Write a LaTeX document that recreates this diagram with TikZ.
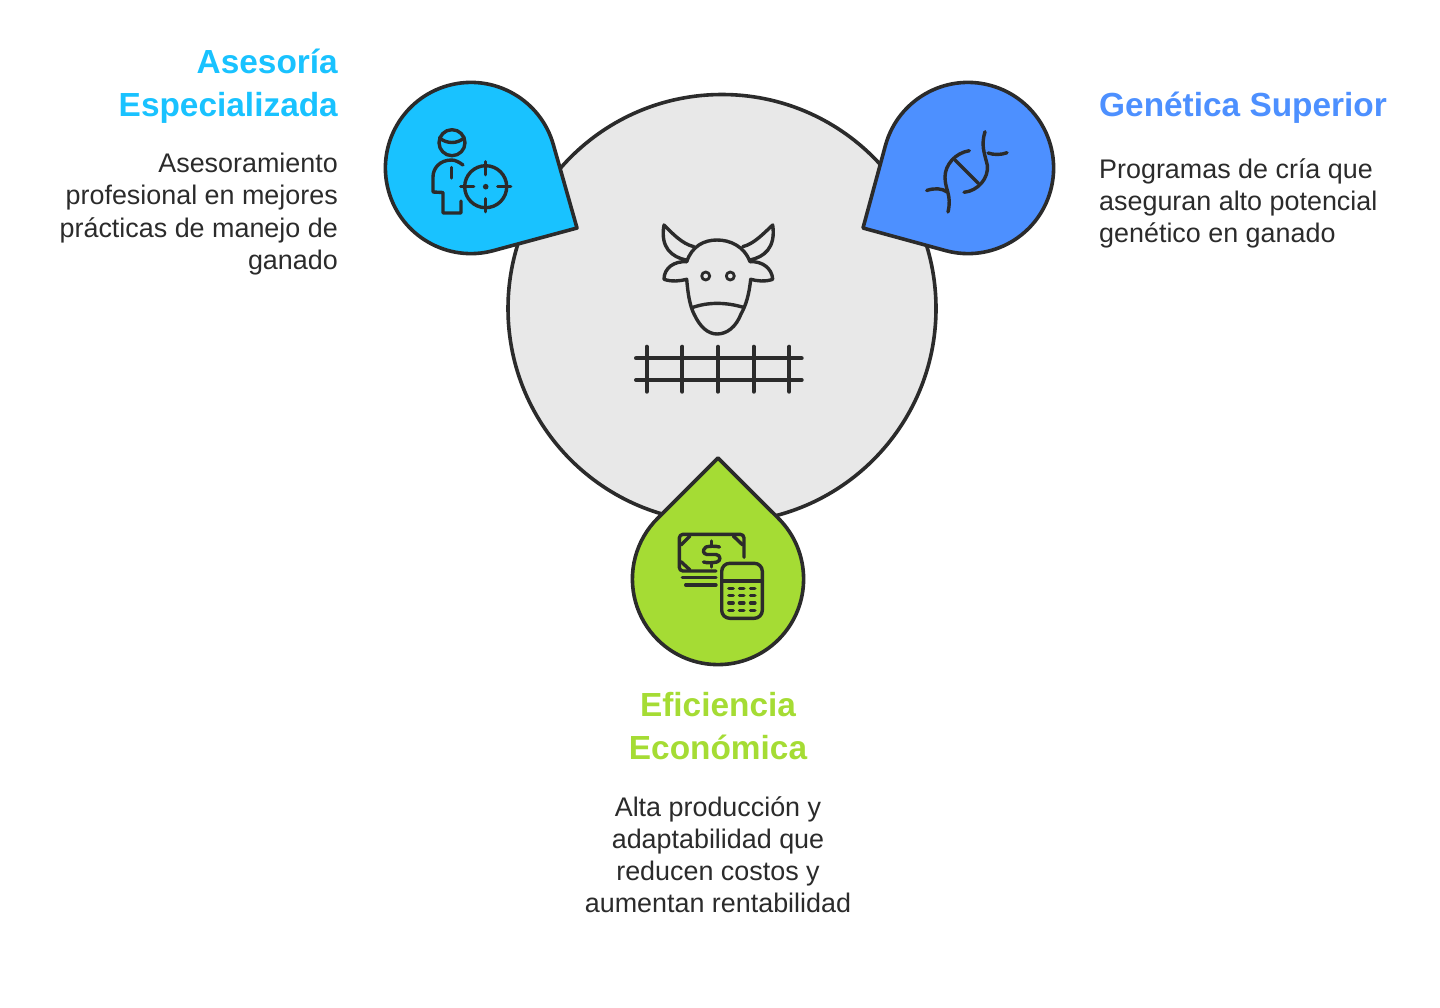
\documentclass[tikz,border=0pt]{standalone}
\usepackage{fontspec}
\setmainfont{Liberation Sans}
\usetikzlibrary{calc}
\definecolor{inkc}{HTML}{2B2B2B}
\definecolor{skyc}{HTML}{19C2FF}
\definecolor{bluec}{HTML}{4D90FF}
\definecolor{limec}{HTML}{A5DC34}
\definecolor{greyc}{HTML}{E8E8E8}
\tikzset{
    outl/.style={draw=inkc,line width=3.6pt,line join=round},
    ico/.style={draw=inkc,line width=3.4pt,line cap=round,line join=round},
    ttl/.style={font=\fontsize{33.4}{43}\selectfont\bfseries,inner sep=0pt},
    txt/.style={font=\fontsize{26.9}{32.3}\selectfont,text=inkc,inner sep=0pt},
}
% centre, start and end angle on the circle, tip
\newcommand{\dropshape}[5]{\path[outl,fill=#5] #4 -- ($#1+(#2:\rd)$) arc[start angle=#2,end angle=#3,radius=\rd] -- cycle;}
\begin{document}
\begin{tikzpicture}[x=1pt,y=-1pt,line cap=round]
    \useasboundingbox (0,0) rectangle (1440,1007);
    \def\rd{85.6}
    \path[outl,fill=greyc] (722,308.5) circle[radius=214];
    \dropshape{(471,168)}{74.6}{344.4}{(577,228)}{skyc}
    \dropshape{(968,168)}{195.4}{465.2}{(863,228)}{bluec}
    \dropshape{(718,579)}{-45.3}{225.3}{(718,458)}{limec}

    % cow
    \draw[ico] (686.7,261.7) .. controls (692,246) and (704,240) .. (717,240) .. controls (730,240) and (744,246) .. (750,261.7);
    \draw[ico] (686.7,261.7) .. controls (674,261) and (664,268) .. (664,279.3) .. controls (672,282) and (680,281) .. (686.7,279.3)
        .. controls (688,295) and (690,306) .. (694,314) .. controls (700,327) and (708,334) .. (717,334)
        .. controls (727,334) and (736,327) .. (741,314) .. controls (746,305) and (749,295) .. (750.7,279.3)
        .. controls (757,281) and (765,282) .. (772.7,279.3) .. controls (772,268) and (762,261) .. (750,261.7);
    \draw[ico] (692.5,307.5) .. controls (708,302) and (726,302) .. (744,307.5);
    \draw[ico] (686,260) .. controls (672,257) and (660,248) .. (664,225) .. controls (672,233) and (682,244) .. (694,246.7);
    \draw[ico] (750,260) .. controls (764,257) and (776,248) .. (772.7,225) .. controls (764,233) and (754,244) .. (742.7,246.7);
    \foreach \ex in {705.7,730.3}
    \draw[ico,line width=2.8pt] (\ex,276) circle[radius=4];
    % fence
    \foreach \fy in {358.3,380}
    \draw[ico,line width=4pt] (636,\fy) -- (801.7,\fy);
    \foreach \fx in {646.7,682.3,718,753.7,789.3}
    \draw[ico,line width=4pt] (\fx,346.7) -- (\fx,391.7);

    % person and target
    \draw[ico] (452,142.7) circle[radius=13];
    \draw[ico] (439.5,138) .. controls (447,144) and (457,144) .. (464,138);
    \draw[ico] (463,165) .. controls (459,162) and (455,160) .. (451.7,160) .. controls (440,160) and (433,168) .. (433,177)
        -- (433,192) -- (443,192.5) -- (443,213) -- (461,213) -- (461,201);
    \draw[ico] (451.7,167.5) -- (451.7,178);
    \draw[ico] (485.7,186.7) circle[radius=21];
    \fill[inkc] (485.7,186.7) circle[radius=2.8];
    \foreach \ang in {0,90,180,270}
    \draw[ico] ($(485.7,186.7)+(\ang:12)$) -- ($(485.7,186.7)+(\ang:25)$);

    % dna
    \draw[ico] (969.3,150.7) .. controls (955,153) and (945,165) .. (945,177) .. controls (945,190) and (952,195) .. (948,212);
    \draw[ico] (926.7,190.5) .. controls (934,188) and (942,188) .. (947,192);
    \draw[ico] (985,131.7) .. controls (981,145) and (984,152) .. (987.3,165) .. controls (989,178) and (978,191) .. (964,192.3);
    \draw[ico] (988,153) .. controls (994,155) and (1001,155) .. (1007,152.7);
    \draw[ico] (955,160) -- (978.3,183.3);

    % money and calculator
    \draw[ico] (744,557.3) -- (744,538) arc[start angle=0,end angle=-90,radius=3.7] -- (683,534.3) arc[start angle=-90,end angle=-180,radius=3.7]
        -- (679.3,567.3) arc[start angle=180,end angle=90,radius=3.7] -- (716,571);
    \draw[ico] (690,536) -- (681,545);
    \draw[ico] (733.3,536) -- (742.7,545);
    \draw[ico] (681,561.7) -- (690,570);
    \draw[ico] (719.5,547) .. controls (717,546) and (708,546) .. (706,547) .. controls (702,550) and (703,554) .. (707,554.5)
        -- (716,554.5) .. controls (721,555) and (721,561) .. (717,562) .. controls (712,563) and (707,563) .. (703.5,562);
    \draw[ico] (711.5,541) -- (711.5,546);
    \draw[ico] (711.5,563) -- (711.5,567);
    \draw[ico] (682.3,577.7) -- (716,577.7);
    \draw[ico] (685.7,585) -- (716,585);
    \draw[ico,rounded corners=8pt] (721.7,563.3) rectangle (762.3,618.3);
    \draw[ico] (721.7,581) -- (762.3,581);
    \foreach \bx in {731,741.7,752.7}
    \foreach \by in {588.7,595.7,603,610.3}
    \draw[ico] (\bx-2.2,\by) -- (\bx+2.2,\by);

    % texts
    \node (ases) at (338,49) [ttl,text=skyc,anchor=north east,align=right]{Asesoría\\Especializada};
    \node (asesd) at (338,153) [txt,anchor=north east,align=right]{Asesoramiento\\profesional en mejores\\prácticas de manejo de\\ganado};
    \node (gene) at (1099,92) [ttl,text=bluec,anchor=north west,align=left]{Genética Superior};
    \node (gened) at (1099,158) [txt,anchor=north west,align=left]{Programas de cría que\\aseguran alto potencial\\genético en ganado};
    \node (efic) at (718,692) [ttl,text=limec,anchor=north,align=center]{Eficiencia\\Económica};
    \node (eficd) at (718,796) [txt,anchor=north,align=center]{Alta producción y\\adaptabilidad que\\reducen costos y\\aumentan rentabilidad};
\end{tikzpicture}
\end{document}
